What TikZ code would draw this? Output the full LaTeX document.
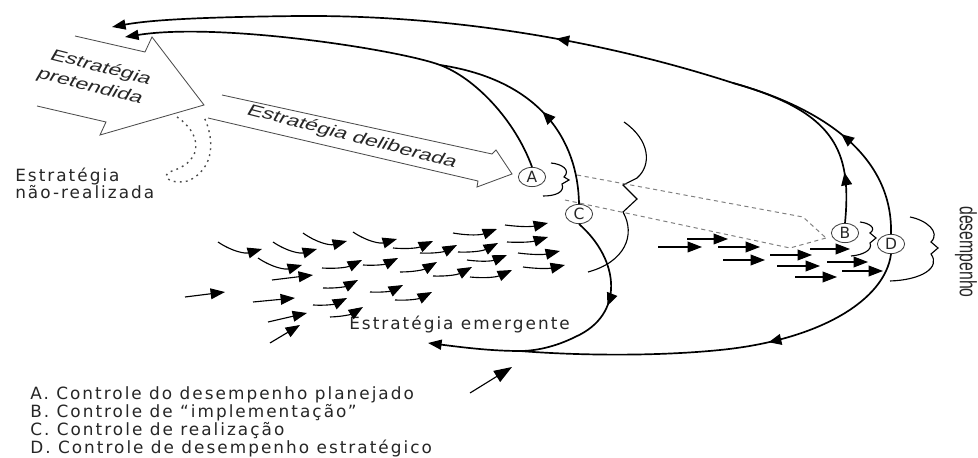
\documentclass[tikz,border=0pt]{standalone}
\usepackage{fontspec}
\setmainfont{Liberation Sans}
\newfontfamily\widesf{DejaVu Sans}[LetterSpace=12]
\usepackage{tikz}
\usetikzlibrary{shapes.geometric, arrows.meta, decorations.markings}

% the source figure is stretched horizontally
\newcommand{\widetext}[1]{\scalebox{1.5}[1]{#1}}

\begin{document}
\begin{tikzpicture}[
    x=0.025cm, y=-0.025cm,
    lbl/.style={inner sep=0pt, text=black!85, font=\fontsize{11.2}{11}\selectfont},
    hlbl/.style={inner sep=0pt, text=black!85, font=\widesf\fontsize{12}{11}\selectfont},
    ctrl/.style={draw=black!75, line width=0.6pt, ellipse, inner sep=0pt, minimum width=0.68cm, minimum height=0.48cm, text=black!85, font=\widesf\fontsize{11}{10}\selectfont},
    loop_line/.style={line width=1.2pt, draw=black},
    end_tip/.style={-{Triangle[length=0.34cm, width=0.25cm]}},
    mid_tip/.style={postaction={decorate, decoration={markings, mark=at position #1 with {\arrow{Triangle[length=0.32cm, width=0.27cm]}}}}},
    emg/.style={line width=0.8pt, -{Triangle[length=0.36cm, width=0.27cm]}},
    hollow/.style={draw=black!70, line width=0.6pt},
    dash_line/.style={draw=black!50, line width=0.7pt, dash pattern=on 3pt off 2.5pt},
    brace_line/.style={line width=0.8pt}
]
    \useasboundingbox (0,0) rectangle (978,458);

    % Control points
    \node (A) [ctrl] at (532,177) {A};
    \node (B) [ctrl] at (845,233) {B};
    \node (C) [ctrl] at (579,214) {C};
    \node (D) [ctrl] at (891,244) {D};

    \coordinate (top_join) at (733,83);
    \coordinate (mid_join) at (440,65);
    \coordinate (low_join) at (520,351);
    \coordinate (tip_outer) at (112,27);
    \coordinate (tip_inner) at (125,37);
    \coordinate (tip_emerg) at (428,343);
    \coordinate (dash_join) at (826,238);

    % Intended strategy
    \draw [hollow] (75,36) -- (145,52) -- (152,37) -- (204,105) -- (100,135) -- (106,122) -- (37,106);
    \node (pretend) [lbl] at (95,78) {\widetext{\rotatebox{-21}{\begin{tabular}{@{}c@{}}Estratégia\\[3pt]pretendida\end{tabular}}}};

    % Deliberate strategy
    \draw [hollow] (222,95) -- (492,154) -- (496,150) -- (512,174) -- (477,187) -- (478,181) -- (208,118);
    \node (deliber) [lbl] at (352,137) {\widetext{\rotatebox{-21}{Estratégia deliberada}}};

    % Unrealized strategy
    \draw [black!70, line width=1pt, dash pattern=on 1.3pt off 3pt] (177,117) .. controls (200,132) and (206,160) .. (172,171) .. controls (160,175) and (168,185) .. (188,181) .. controls (216,168) and (214,138) .. (204,117);
    \node (unreal1) [hlbl, anchor=base west] at (15,182) {Estratégia};
    \node (unreal2) [hlbl, anchor=base west] at (15,199) {não-realizada};

    % Emergent strategy
    \node (emerg) [hlbl, anchor=base west] at (349,329) {Estratégia emergente};

    % Feedback to the intended strategy
    \draw [loop_line, end_tip, mid_tip=0.29] (top_join) .. controls (600,40) and (450,15) .. (300,16) .. controls (200,17) and (150,20) .. (tip_outer);
    \draw [loop_line, mid_tip=0.49] (D.north) .. controls (893,160) and (830,110) .. (top_join);
    \draw [loop_line, mid_tip=0.25] (B.north) .. controls (852,150) and (835,112) .. (top_join);
    \draw [loop_line, end_tip] (A.north) .. controls (515,120) and (475,78) .. (mid_join) .. controls (400,50) and (220,22) .. (tip_inner);
    \draw [loop_line, mid_tip=0.47] (C.north) .. controls (578,140) and (540,80) .. (mid_join);

    % Feedback to the emergent strategy
    \draw [loop_line, end_tip, mid_tip=0.32] (C.south) .. controls (620,260) and (625,315) .. (575,337) .. controls (555,347) and (535,351) .. (low_join) .. controls (490,351) and (460,347) .. (tip_emerg);
    \draw [loop_line, mid_tip=0.39] (D.south) .. controls (885,300) and (820,340) .. (720,350) .. controls (650,357) and (570,355) .. (low_join);

    % Performance braces
    \draw [brace_line] (551,163) .. controls (562,164) and (571,170) .. (564,177) -- (569,180) -- (562,184) .. controls (565,192) and (556,196) .. (543,196);
    \draw [brace_line] (624,122) .. controls (650,140) and (652,165) .. (637,178) -- (623,185) -- (637,199) -- (623,212) .. controls (636,235) and (625,262) .. (588,272);
    \draw [brace_line] (860,222) .. controls (869,223) and (877,228) .. (870,233) -- (876,238) -- (870,243) .. controls (873,250) and (863,255) .. (851,256);
    \draw [brace_line] (910,217) .. controls (926,220) and (941,232) .. (931,242) -- (938,248) -- (931,254) .. controls (941,268) and (921,280) .. (890,281);
    \draw [dash_line] (577,175) -- (803,217) -- (dash_join);
    \draw [dash_line] (565,200) -- (790,248) -- (dash_join);
    \node (perf) [lbl] at (966,252) {\widetext{\rotatebox{-90}{desempenho}}};

    % Emergent arrows
    \draw [emg] (218,242) to[bend right=25] (262,249);
    \draw [emg] (273,242) to[bend right=25] (317,249);
    \draw [emg] (303,233) to[bend right=25] (347,241);
    \draw [emg] (353,232) to[bend right=25] (397,239);
    \draw [emg] (258,258) to[bend right=25] (302,265);
    \draw [emg] (393,248) to[bend right=15] (433,241);
    \draw [emg] (420,253) to[bend right=15] (457,245);
    \draw [emg] (453,233) to[bend right=15] (497,229);
    \draw [emg] (458,252) to[bend right=15] (498,243);
    \draw [emg] (467,260) to[bend right=15] (507,255);
    \draw [emg] (470,277) to[bend right=15] (512,270);
    \draw [emg] (433,276) to[bend right=15] (472,267);
    \draw [emg] (400,272) to[bend right=15] (437,262);
    \draw [emg] (363,265) to[bend right=15] (398,258);
    \draw [emg] (322,268) to[bend right=15] (362,260);
    \draw [emg] (323,288) to[bend right=15] (358,280);
    \draw [emg] (370,292) to[bend right=15] (403,285);
    \draw [emg] (395,300) to[bend right=15] (432,292);
    \draw [emg] (313,305) to[bend right=15] (347,298);
    \draw [emg] (330,317) to[bend right=15] (363,307);
    \draw [emg] (505,225) to[bend right=10] (548,223);
    \draw [emg] (507,242) to[bend right=10] (548,237);
    \draw [emg] (518,253) to[bend right=10] (560,251);
    \draw [emg] (523,267) to[bend right=10] (565,265);
    \draw [emg] (272,280) -- (313,275);
    \draw [emg] (185,297) -- (225,292);
    \draw [emg] (253,302) -- (295,298);
    \draw [emg] (268,322) -- (307,313);
    \draw [emg] (270,343) -- (300,325);
    \draw [emg] (658,247) -- (702,247);
    \draw [emg] (687,239) -- (728,239);
    \draw [emg] (718,247) -- (760,247);
    \draw [emg] (723,260) -- (765,260);
    \draw [emg] (770,255) -- (812,255);
    \draw [emg] (777,266) -- (820,266);
    \draw [emg] (795,277) -- (837,277);
    \draw [emg] (810,249) -- (850,249);
    \draw [emg] (827,262) -- (868,262);
    \draw [emg] (842,271) -- (883,271);
    \draw [line width=0.8pt, -{Triangle[length=0.45cm, width=0.32cm]}] (470,393) -- (512,367);

    % Legend
    \node (legend) [hlbl, anchor=north west, align=left] at (30,386) {A.\ Controle do desempenho planejado\\B.\ Controle de “implementação”\\C.\ Controle de realização\\D.\ Controle de desempenho estratégico};
\end{tikzpicture}
\end{document}
